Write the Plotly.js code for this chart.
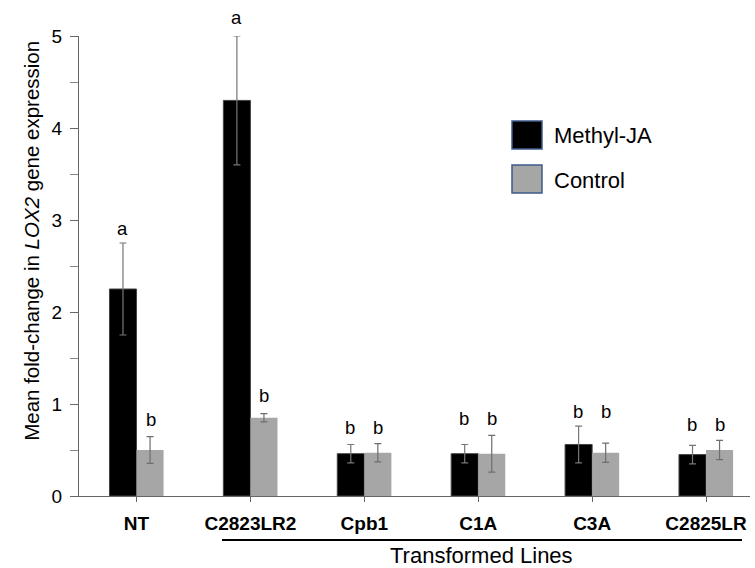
<!DOCTYPE html>
<html>
<head>
<meta charset="utf-8">
<script src="https://cdn.plot.ly/plotly-3.0.1.min.js"></script>
<style>html,body{margin:0;padding:0;background:#fff;}#chart{width:755px;height:568px;}</style>
</head>
<body>
<div id="chart"></div>
<script>
const categories = ['NT', 'C2823LR2', 'Cpb1', 'C1A', 'C3A', 'C2825LR'];
const methylValues = [2.25, 4.3, 0.46, 0.46, 0.56, 0.45];
const methylErrors = [0.5, 0.7, 0.1, 0.1, 0.2, 0.1];
const controlValues = [0.5, 0.85, 0.47, 0.46, 0.47, 0.5];
const controlErrors = [0.145, 0.045, 0.1, 0.2, 0.105, 0.105];
const methylLetters = ['a', 'a', 'b', 'b', 'b', 'b'];
const controlLetters = ['b', 'b', 'b', 'b', 'b', 'b'];
const methylLetterY = [2.91, 5.2, 0.75, 0.84, 0.92, 0.78];
const controlLetterY = [0.83, 1.09, 0.75, 0.84, 0.92, 0.78];
const seriesNames = ['Methyl-JA', 'Control'];
const groupLabel = 'Transformed Lines';
const yMax = 5;

const FONT = 'Arial, "Liberation Sans", sans-serif';

const traces = [
  {
    type: 'bar', name: seriesNames[0], x: categories, y: methylValues,
    marker: {color: '#000000', line: {color: '#444444', width: 1}},
    error_y: {type: 'data', array: methylErrors, visible: true, color: '#777777', thickness: 1.2, width: 3.5}
  },
  {
    type: 'bar', name: seriesNames[1], x: categories, y: controlValues,
    marker: {color: '#a6a6a6', line: {width: 0}},
    error_y: {type: 'data', array: controlErrors, visible: true, color: '#6e6e6e', thickness: 1.2, width: 3.5}
  }
];

const annotations = [];
categories.forEach((c, i) => {
  annotations.push({x: c, y: methylLetterY[i] / yMax, xref: 'x', yref: 'paper', text: methylLetters[i], showarrow: false,
    xshift: -14, yanchor: 'middle', font: {family: FONT, size: 18.5, color: '#000'}});
  annotations.push({x: c, y: controlLetterY[i] / yMax, xref: 'x', yref: 'paper', text: controlLetters[i], showarrow: false,
    xshift: 14, yanchor: 'middle', font: {family: FONT, size: 18.5, color: '#000'}});
});
// y axis title
annotations.push({xref: 'paper', yref: 'paper', x: -0.072, xanchor: 'center', y: 0.554, yanchor: 'middle',
  text: 'Mean fold-change in <i>LOX2</i> gene expression', textangle: -90, showarrow: false,
  font: {family: FONT, size: 20.5, color: '#000'}});
// group label
annotations.push({xref: 'paper', yref: 'paper', x: 0.6, y: -0.13, xanchor: 'center', yanchor: 'middle',
  text: groupLabel, showarrow: false, font: {family: FONT, size: 22, color: '#000'}});
// legend text
annotations.push({xref: 'paper', yref: 'paper', x: (552 - 79) / 671, y: (496 - 135) / 460, xanchor: 'left', yanchor: 'middle',
  text: seriesNames[0], showarrow: false, font: {family: FONT, size: 22, color: '#000'}});
annotations.push({xref: 'paper', yref: 'paper', x: (552 - 79) / 671, y: (496 - 180) / 460, xanchor: 'left', yanchor: 'middle',
  text: seriesNames[1], showarrow: false, font: {family: FONT, size: 22, color: '#000'}});

const px = v => (v - 79) / 671;
const py = v => (496 - v) / 460;
const shapes = [
  {type: 'line', xref: 'paper', yref: 'paper', x0: px(222), x1: px(742), y0: py(540), y1: py(540), line: {color: '#000', width: 2}},
  {type: 'rect', xref: 'paper', yref: 'paper', x0: px(512), x1: px(542), y0: py(121), y1: py(149), fillcolor: '#000', line: {color: '#3d5a8a', width: 1.5}},
  {type: 'rect', xref: 'paper', yref: 'paper', x0: px(512), x1: px(542), y0: py(165), y1: py(193), fillcolor: '#a6a6a6', line: {color: '#3d5a8a', width: 1.5}}
];

const layout = {
  width: 755, height: 568,
  margin: {l: 79, r: 5, t: 36, b: 72, pad: 0},
  paper_bgcolor: '#fff', plot_bgcolor: '#fff',
  barmode: 'group', bargap: 0.525, bargroupgap: 0,
  showlegend: false,
  font: {family: FONT, color: '#000'},
  xaxis: {
    type: 'category', range: [-0.505, 5.386], showgrid: false, zeroline: false,
    showline: true, linecolor: '#666', linewidth: 1,
    ticks: 'outside', ticklen: 5, tickcolor: '#666', tickwidth: 1,
    tickfont: {family: FONT, size: 19, color: '#000', weight: 'bold'},
    ticklabelstandoff: 5, fixedrange: true
  },
  yaxis: {
    range: [0, yMax], showgrid: false, zeroline: false,
    showline: true, linecolor: '#666', linewidth: 1,
    ticks: 'outside', ticklen: 8, tickcolor: '#666', tickwidth: 1,
    tickvals: [0, 1, 2, 3, 4, 5],
    minor: {tickvals: [0.5, 1.5, 2.5, 3.5, 4.5], ticks: 'outside', ticklen: 8, tickcolor: '#888', tickwidth: 1},
    tickfont: {family: FONT, size: 19, color: '#000'},
    ticklabelstandoff: 4, fixedrange: true
  },
  annotations: annotations,
  shapes: shapes
};

Plotly.newPlot('chart', traces, layout, {displayModeBar: false, staticPlot: true});
</script>
</body>
</html>
